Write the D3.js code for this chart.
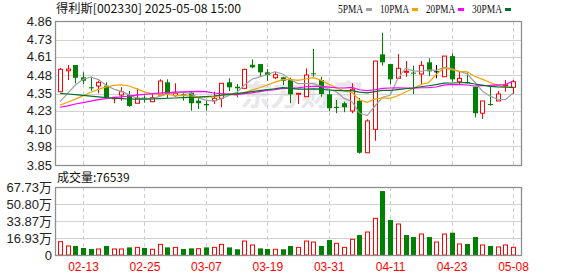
<!DOCTYPE html>
<html>
<head>
<meta charset="utf-8">
<script src="https://cdn.jsdelivr.net/npm/d3@7"></script>
<style>
  body { margin: 0; background: #fff; }
  svg { display: block; }
</style>
</head>
<body>
<div id="chart"></div>
<script>
// trading days shown (02-10 .. 05-08)
const dates = ['02-10','02-11','02-12','02-13','02-14','02-17','02-18','02-19','02-20','02-21',
  '02-24','02-25','02-26','02-27','02-28','03-03','03-04','03-05','03-06','03-07',
  '03-10','03-11','03-12','03-13','03-14','03-17','03-18','03-19','03-20','03-21',
  '03-24','03-25','03-26','03-27','03-28','03-31','04-01','04-02','04-03','04-07',
  '04-08','04-09','04-10','04-11','04-14','04-15','04-16','04-17','04-18','04-21',
  '04-22','04-23','04-24','04-25','04-28','04-29','04-30','05-06','05-07','05-08'];

const open = [4.364,4.511,4.551,4.465,4.395,4.404,4.406,4.315,4.341,4.341,
  4.283,4.322,4.294,4.341,4.430,4.336,4.345,4.357,4.301,4.278,
  4.301,4.318,4.430,4.399,4.388,4.553,4.558,4.500,4.462,4.465,
  4.453,4.348,4.329,4.493,4.446,4.346,4.257,4.283,4.229,4.301,
  3.936,4.100,4.626,4.558,4.458,4.500,4.498,4.488,4.570,4.507,
  4.469,4.614,4.434,4.430,4.399,4.213,4.278,4.299,4.404,4.395];
const high = [4.532,4.551,4.551,4.500,4.469,4.441,4.430,4.325,4.395,4.369,
  4.388,4.339,4.353,4.451,4.451,4.423,4.353,4.369,4.318,4.301,
  4.364,4.423,4.458,4.418,4.525,4.591,4.558,4.523,4.504,4.469,
  4.462,4.353,4.528,4.664,4.469,4.381,4.306,4.294,4.423,4.320,
  4.171,4.579,4.778,4.558,4.628,4.579,4.547,4.579,4.598,4.551,
  4.614,4.633,4.504,4.504,4.399,4.299,4.411,4.369,4.446,4.446];
const low = [4.364,4.446,4.423,4.418,4.371,4.353,4.318,4.283,4.301,4.259,
  4.283,4.287,4.294,4.341,4.318,4.329,4.301,4.231,4.243,4.231,
  4.278,4.255,4.369,4.325,4.385,4.528,4.469,4.441,4.453,4.411,
  4.283,4.278,4.329,4.469,4.329,4.229,4.213,4.220,4.213,3.930,
  3.936,4.020,4.547,4.416,4.458,4.469,4.348,4.418,4.474,4.458,
  4.469,4.434,4.411,4.423,4.185,4.173,4.266,4.299,4.364,4.348];
const close = [4.521,4.523,4.462,4.441,4.388,4.430,4.325,4.325,4.364,4.264,
  4.318,4.311,4.322,4.439,4.348,4.353,4.339,4.283,4.283,4.269,
  4.318,4.423,4.395,4.388,4.521,4.535,4.500,4.481,4.483,4.441,
  4.346,4.353,4.481,4.486,4.348,4.248,4.250,4.255,4.381,3.936,
  4.159,4.579,4.570,4.451,4.528,4.507,4.493,4.549,4.507,4.507,
  4.614,4.451,4.458,4.425,4.213,4.299,4.271,4.348,4.411,4.434];

// volume in 万
const volume = [13.3,9.0,9.0,7.0,6.0,6.0,9.0,6.0,6.0,7.6,
  7.6,7.0,5.7,10.6,7.6,7.6,6.0,6.6,6.3,7.6,
  7.6,10.6,7.6,5.7,13.9,10.0,6.6,6.0,5.7,5.7,
  9.0,7.6,13.9,12.9,9.0,14.9,11.6,7.6,15.6,19.9,
  22.9,36.5,63.7,34.9,30.9,19.9,17.9,20.9,17.9,12.9,
  20.9,22.2,11.0,11.0,17.9,10.0,9.0,8.0,10.0,7.65];

const ma5 = [4.294,4.353,4.411,4.451,4.467,4.449,4.409,4.382,4.366,4.342,
  4.319,4.316,4.316,4.331,4.348,4.355,4.360,4.352,4.321,4.305,
  4.298,4.315,4.338,4.359,4.409,4.452,4.468,4.485,4.504,4.488,
  4.450,4.421,4.421,4.421,4.403,4.383,4.363,4.317,4.296,4.214,
  4.196,4.262,4.325,4.339,4.457,4.527,4.510,4.506,4.517,4.513,
  4.534,4.526,4.507,4.491,4.432,4.369,4.333,4.311,4.308,4.353];
const ma10 = [4.270,4.290,4.312,4.335,4.360,4.380,4.398,4.408,4.412,4.404,
  4.384,4.363,4.349,4.349,4.345,4.337,4.338,4.334,4.326,4.327,
  4.327,4.338,4.345,4.340,4.357,4.375,4.392,4.411,4.431,4.449,
  4.451,4.444,4.453,4.463,4.445,4.417,4.392,4.369,4.359,4.308,
  4.290,4.312,4.321,4.318,4.336,4.362,4.386,4.415,4.428,4.485,
  4.531,4.518,4.507,4.504,4.472,4.452,4.429,4.409,4.400,4.392];
const ma20 = [4.255,4.265,4.278,4.288,4.298,4.308,4.316,4.322,4.328,4.334,
  4.340,4.346,4.350,4.355,4.358,4.361,4.363,4.365,4.366,4.365,
  4.355,4.350,4.347,4.344,4.351,4.356,4.365,4.373,4.379,4.388,
  4.389,4.391,4.399,4.401,4.401,4.396,4.392,4.390,4.395,4.378,
  4.371,4.378,4.387,4.390,4.391,4.389,4.389,4.392,4.393,4.397,
  4.410,4.415,4.414,4.411,4.404,4.407,4.408,4.412,4.414,4.439];
const ma30 = [4.353,4.348,4.343,4.338,4.333,4.328,4.322,4.318,4.315,4.313,
  4.312,4.312,4.313,4.316,4.318,4.320,4.322,4.324,4.326,4.330,
  4.334,4.340,4.345,4.350,4.358,4.365,4.372,4.378,4.385,4.393,
  4.387,4.382,4.382,4.384,4.382,4.376,4.374,4.372,4.372,4.361,
  4.356,4.365,4.373,4.373,4.379,4.385,4.390,4.399,4.406,4.414,
  4.424,4.425,4.427,4.428,4.418,4.410,4.402,4.398,4.396,4.395];

const maNames  = ['5PMA', '10PMA', '20PMA', '30PMA'];
const maColors = ['#a0a0a0', '#f5a300', '#ff00ff', '#00702a'];

const priceTicks = [3.85, 3.98, 4.10, 4.23, 4.35, 4.48, 4.61, 4.73, 4.86];
const volTicks   = [0, 16.93, 33.87, 50.80, 67.73];
const dateTicks  = ['02-13', '02-25', '03-07', '03-19', '03-31', '04-11', '04-23', '05-08'];

const title    = '得利斯[002330] 2025-05-08 15:00';
const volLabel = '成交量:76539';

// layout
const WIDTH = 578, HEIGHT = 276;
const LEFT = 55, RIGHT = 522;
const P_TOP = 21, P_BOTTOM = 165;
const V_TOP = 187, V_BOTTOM = 255;
const RED = '#ff0000', GREEN = '#008000';

const svg = d3.select('#chart').append('svg')
  .attr('width', WIDTH)
  .attr('height', HEIGHT)
  .style('font-family', '"Liberation Sans", Arial, sans-serif');

const x  = d3.scalePoint().domain(dates).range([60, 513]);
const y  = d3.scaleLinear().domain([3.85, 4.86]).range([P_BOTTOM, P_TOP]);
const yv = d3.scaleLinear().domain([0, 67.73]).range([V_BOTTOM, V_TOP]);
const crisp = v => Math.round(v) + 0.5;

// title + legend
svg.append('text')
  .attr('x', 56).attr('y', 13)
  .attr('textLength', 185).attr('lengthAdjust', 'spacingAndGlyphs')
  .style('font-family', '"Noto Sans CJK SC", sans-serif')
  .style('font-size', '12px').style('fill', '#111')
  .text(title);

const LEGEND_X = [338, 380, 426, 472];
const LEGEND_W = [25, 29, 29, 30];
maNames.forEach((name, i) => {
  svg.append('text')
    .attr('x', LEGEND_X[i]).attr('y', 13)
    .attr('textLength', LEGEND_W[i]).attr('lengthAdjust', 'spacingAndGlyphs')
    .style('font-family', '"Liberation Serif", serif')
    .style('font-size', '12px').style('fill', '#111')
    .text(name);
  svg.append('rect')
    .attr('x', LEGEND_X[i] + LEGEND_W[i] + 3).attr('y', 8)
    .attr('width', 6).attr('height', 3)
    .attr('fill', maColors[i]);
});

// watermark
svg.append('text')
  .attr('x', 241).attr('y', 106)
  .attr('transform', 'skewX(-8) translate(14,0)')
  .style('font-family', '"Noto Sans CJK SC", sans-serif')
  .style('font-size', '30px').style('font-weight', 'bold')
  .style('fill', '#e7e7ec')
  .text('东方财富');

// grids
const grid = svg.append('g');
grid.selectAll('line.ph').data(priceTicks.slice(1, -1)).enter().append('line')
  .attr('x1', LEFT).attr('x2', RIGHT)
  .attr('y1', d => crisp(y(d))).attr('y2', d => crisp(y(d)))
  .attr('stroke', '#d2d2d2');
grid.selectAll('line.vh').data(volTicks.slice(1, -1)).enter().append('line')
  .attr('x1', LEFT).attr('x2', RIGHT)
  .attr('y1', d => crisp(yv(d))).attr('y2', d => crisp(yv(d)))
  .attr('stroke', '#d2d2d2');
[[P_TOP, P_BOTTOM], [V_TOP, V_BOTTOM]].forEach(([t, b]) => {
  grid.selectAll(null).data(dateTicks).enter().append('line')
    .attr('x1', d => crisp(x(d))).attr('x2', d => crisp(x(d)))
    .attr('y1', t).attr('y2', b)
    .attr('stroke', '#cfcfcf')
    .attr('stroke-dasharray', '4,3');
});

// candles
const candles = dates.map((d, i) => ({
  date: d, o: open[i], h: high[i], l: low[i], c: close[i],
  v: volume[i], prev: i ? close[i - 1] : open[i]
}));
const candleColor = d => d.c > d.o ? RED : (d.c < d.o ? GREEN : '#000');

const cg = svg.append('g');
cg.selectAll('line').data(candles).enter().append('line')
  .attr('x1', d => crisp(x(d.date))).attr('x2', d => crisp(x(d.date)))
  .attr('y1', d => y(d.h)).attr('y2', d => y(d.l))
  .attr('stroke', candleColor);

cg.selectAll('rect').data(candles).enter().append('rect')
  .attr('x', d => d.c > d.o ? Math.round(x(d.date)) - 1.5 : Math.round(x(d.date)) - 2)
  .attr('width', d => d.c > d.o ? 4 : 5)
  .attr('y', d => y(Math.max(d.o, d.c)))
  .attr('height', d => Math.max(1, y(Math.min(d.o, d.c)) - y(Math.max(d.o, d.c))))
  .attr('fill', d => d.c > d.o ? '#fff' : candleColor(d))
  .attr('stroke', d => d.c > d.o ? RED : 'none');

// moving averages
[ma5, ma10, ma20, ma30].forEach((ma, i) => {
  const line = d3.line()
    .x((d, j) => x(dates[j]))
    .y(d => y(d));
  svg.append('path').datum(ma)
    .attr('fill', 'none')
    .attr('stroke', maColors[i])
    .attr('stroke-width', 1.2)
    .attr('d', line);
});

// volume bars
const up = d => d.c >= d.prev;
svg.append('g').selectAll('rect').data(candles).enter().append('rect')
  .attr('x', d => up(d) ? Math.round(x(d.date)) - 1.5 : Math.round(x(d.date)) - 2)
  .attr('width', d => up(d) ? 4 : 5)
  .attr('y', d => yv(d.v))
  .attr('height', d => V_BOTTOM - yv(d.v))
  .attr('fill', d => up(d) ? '#fff' : GREEN)
  .attr('stroke', d => up(d) ? RED : 'none');

// panel borders
[[P_TOP, P_BOTTOM], [V_TOP, V_BOTTOM]].forEach(([t, b]) => {
  svg.append('rect')
    .attr('x', LEFT + 0.5).attr('y', t + 0.5)
    .attr('width', RIGHT - LEFT - 1).attr('height', b - t)
    .attr('fill', 'none')
    .attr('stroke', '#8f8f8f')
    .attr('stroke-width', 1.3);
});

// axes
const yAxis = svg.append('g')
  .attr('transform', 'translate(' + LEFT + ',0)')
  .call(d3.axisLeft(y).tickValues(priceTicks).tickSize(0).tickPadding(3)
    .tickFormat(d3.format('.2f')));
const vAxis = svg.append('g')
  .attr('transform', 'translate(' + LEFT + ',0)')
  .call(d3.axisLeft(yv).tickValues(volTicks).tickSize(0).tickPadding(3)
    .tickFormat(d => d === 0 ? '0' : d3.format('.2f')(d) + '万'));
const xAxis = svg.append('g')
  .attr('transform', 'translate(0,' + V_BOTTOM + ')')
  .call(d3.axisBottom(x).tickValues(dateTicks).tickSize(0).tickPadding(7));

[yAxis, vAxis, xAxis].forEach(a => a.select('.domain').remove());
[yAxis, vAxis].forEach(a => a.selectAll('text')
  .style('font-family', '"Liberation Sans", Arial, "Noto Sans CJK SC", sans-serif')
  .style('font-size', '13px')
  .attr('fill', '#222'));
xAxis.selectAll('text')
  .style('font-family', '"Liberation Sans", Arial, sans-serif')
  .style('font-size', '12px')
  .attr('fill', RED);

svg.append('text')
  .attr('x', 57).attr('y', 182)
  .style('font-family', '"Noto Sans CJK SC", sans-serif')
  .style('font-size', '12px').style('fill', '#111')
  .text(volLabel);
</script>
</body>
</html>
